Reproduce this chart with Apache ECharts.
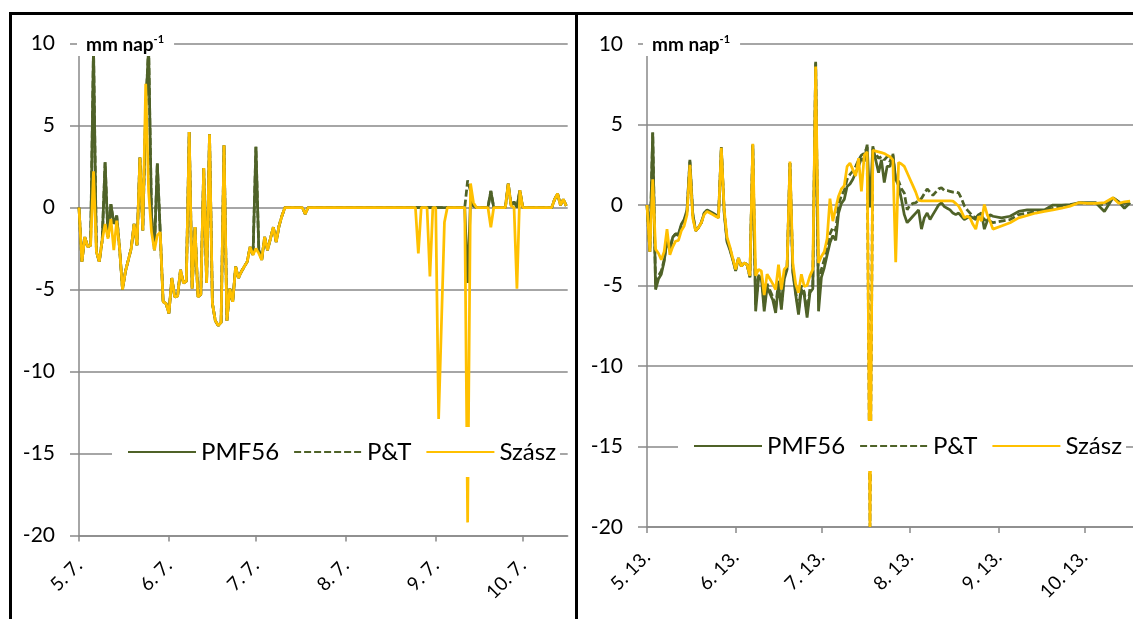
<!DOCTYPE html>
<html>
<head>
<meta charset="utf-8">
<title>Evapotranspiráció – PMF56, P&amp;T, Szász</title>
<script src="https://cdn.jsdelivr.net/npm/echarts@6/dist/echarts.min.js"></script>
<style>
  html, body { margin: 0; padding: 0; background: #fff; }
  #chart { width: 1133px; height: 619px; }
</style>
</head>
<body>
<div id="chart"></div>
<script>
// ---- Left panel: days counted from 5. 7. ----
const leftTickDays = [0, 31, 61, 92, 123, 153];
const leftTickLabels = ['5. 7.', '6. 7.', '7. 7.', '8. 7.', '9. 7.', '10. 7.'];
const leftDays = [
  0, 1, 2, 3, 4, 5, 6, 7, 8, 9, 10, 11, 12, 13, 14, 15, 16, 17, 18, 19,
  20, 21, 22, 23, 24, 25, 26, 27, 28, 29, 30, 31, 32, 33, 34, 35, 36, 37, 38, 39,
  40, 41, 42, 43, 44, 45, 46, 47, 48, 49, 50, 51, 52, 53, 54, 55, 56, 57, 58, 59,
  60, 61, 62, 63, 64, 65, 66, 67, 68, 69, 70, 71,
  77, 78, 79, 116, 117, 118, 120, 121, 122, 123, 124, 126, 127, 133, 134, 135, 136, 137,
  141, 142, 143, 147, 148, 149, 150, 151, 152, 153, 163, 164, 165, 166, 167, 168
];
const leftPMF56 = [
  0, -3.3, -1.8, -2.4, -2.3, 9.8, -2.7, -3.3, -2.0, 2.75, -1.8, 0.2, -1.0, -0.5, -2.5, -5.0, -3.9, -3.2, -2.5, -1.0,
  -2.3, 3.05, -1.4, 6.0, 9.8, -0.5, -2.6, 2.7, -1.5, -5.75, -5.85, -6.45, -4.3, -5.45, -5.4, -3.8, -4.6, -4.5, 4.6, -4.95,
  -1.2, -5.45, -5.3, 2.4, -4.6, 4.47, -5.85, -6.9, -7.2, -7.0, 3.8, -6.9, -4.95, -5.75, -3.6, -4.3, -3.9, -3.6, -3.3, -2.4,
  -2.9, 3.7, -2.6, -3.2, -1.8, -2.6, -1.9, -1.2, -2.1, -1.1, -0.5, 0,
  0, -0.4, 0, 0, 0, 0, 0, 0, 0, 0, 0, 0, 0, 0, -4.6, 0.5, 0.1, 0,
  0, 1.0, 0, 0, 1.46, 0.1, 0.35, 0, 1.05, 0, 0, 0.5, 0.85, 0.14, 0.5, 0.1
];
const leftPT = [
  0, -3.3, -1.8, -2.4, -2.3, 9.8, -2.7, -3.3, -2.0, 2.75, -1.8, 0.2, -1.0, -0.5, -2.5, -5.0, -3.9, -3.2, -2.5, -1.0,
  -2.3, 3.05, -1.4, 6.0, 9.8, -0.5, -2.6, 2.7, -1.5, -5.75, -5.85, -6.45, -4.3, -5.45, -5.4, -3.8, -4.6, -4.5, 4.6, -4.95,
  -1.2, -5.45, -5.3, 2.4, -4.6, 4.47, -5.85, -6.9, -7.2, -7.0, 3.8, -6.9, -4.95, -5.75, -3.6, -4.3, -3.9, -3.6, -3.3, -2.4,
  -2.9, 3.7, -2.6, -3.2, -1.8, -2.6, -1.9, -1.2, -2.1, -1.1, -0.5, 0,
  0, -0.4, 0, 0, 0, 0, 0, 0, 0, 0, 0, 0, 0, 0, 1.65, 1.0, 0.1, 0,
  0, 1.0, 0, 0, 1.46, 0.1, 0.35, 0, 1.05, 0, 0, 0.5, 0.85, 0.14, 0.5, 0.1
];
const leftSzasz = [
  0, -3.3, -1.8, -2.4, -2.3, 2.2, -2.7, -3.3, -2.0, -1.0, -1.9, -0.7, -2.6, -0.8, -2.5, -5.0, -3.9, -3.2, -2.5, -1.0,
  -2.3, 3.05, -1.4, 7.55, 1.0, -1.5, -2.6, -1.7, -1.5, -5.75, -5.85, -6.45, -4.3, -5.45, -5.4, -3.8, -4.6, -4.5, 4.6, -4.95,
  -1.2, -5.45, -5.3, 2.4, -4.6, 4.47, -5.85, -6.9, -7.2, -7.0, 3.8, -6.9, -4.95, -5.75, -3.6, -4.3, -3.9, -3.6, -3.3, -2.4,
  -2.9, -2.5, -2.8, -3.2, -1.8, -2.6, -1.9, -1.2, -2.1, -1.1, -0.5, 0,
  0, -0.4, 0, 0, -2.8, 0, 0, -4.2, 0, 0, -12.9, -0.9, 0, 0, -19.2, 1.46, 0.3, 0,
  0, -1.2, 0, 0, 1.46, 0.1, 0, -4.95, 1.05, 0, 0, 0.5, 0.85, 0.14, 0.5, 0.1
];

// ---- Right panel: days counted from 5. 13. ----
const rightTickDays = [0, 31, 61, 92, 123, 153];
const rightTickLabels = ['5. 13.', '6. 13.', '7. 13.', '8. 13.', '9. 13.', '10. 13.'];
const rightDays = [
  0, 1, 2, 3, 4, 5, 6, 7, 8, 9, 10, 11, 12, 13, 14, 15, 16, 17, 18, 19,
  20, 21, 22, 23, 24, 25, 26, 27, 28, 29, 30, 31, 32, 33, 34, 35, 36, 37, 38, 39,
  40, 41, 42, 43, 44, 45, 46, 47, 48, 49, 50, 51, 52, 53, 54, 55, 56, 57, 58, 59,
  60, 61, 62, 63, 64, 65, 66, 67, 68, 69, 70, 71, 72, 73, 74, 75, 76, 77, 78, 79,
  80, 81, 82, 83, 84, 85, 86, 87, 88, 89, 90, 91, 92, 93, 94, 95, 96, 97, 98, 99,
  100, 101, 102, 103, 104, 105, 106, 107, 108, 109, 110, 111, 112, 113, 114, 115, 116, 117, 118, 119,
  120, 121, 124, 127, 130, 133, 136, 139, 142, 145, 148, 151, 154, 157, 160, 163, 165, 167, 169
];
const rightPMF56 = [
  0, -2.9, 4.5, -5.25, -4.6, -4.3, -3.5, -2.2, -2.8, -2.0, -1.8, -1.8, -1.2, -0.9, -0.3, 2.8, -0.5, -1.6, -1.4, -1.1,
  -0.5, -0.3, -0.4, -0.5, -0.6, -0.8, 3.6, -0.5, -2.3, -2.8, -3.4, -4.1, -3.3, -3.8, -3.6, -3.7, -4.5, 3.7, -6.6, -4.6,
  -4.5, -6.6, -5.1, -5.5, -5.9, -6.7, -4.9, -6.5, -4.6, -4.0, 2.6, -4.2, -5.55, -6.8, -5.25, -5.6, -7.0, -5.45, -5.2, 8.9,
  -6.6, -4.5, -3.9, -3.1, -2.35, -1.9, -2.2, -0.5, 0.1, 0.35, 1.15, 1.3, 1.6, 2.0, 2.4, 2.9, 2.7, 3.75, -0.15, 3.65,
  2.8, 2.0, 2.8, 1.4, 2.4, 2.4, 3.1, 1.6, 1.2, 0.35, -0.6, -1.1, -0.9, -0.7, -0.5, -0.3, -1.5, -0.8, -0.5, -0.9,
  -0.6, -0.3, 0.0, 0.14, -0.1, -0.2, -0.3, -0.5, -0.6, -0.5, -0.7, -0.9, -0.8, -0.7, -0.8, -0.9, -0.6, -0.5, -1.5, -1.0,
  -0.6, -0.7, -0.8, -0.7, -0.4, -0.3, -0.3, -0.3, 0.0, 0.0, 0.03, 0.14, 0.14, 0.14, -0.4, 0.45, 0.2, -0.2, 0.14
];
const rightPT = [
  0, -2.9, 4.5, -5.0, -4.4, -4.1, -3.4, -2.2, -2.8, -2.0, -1.8, -1.9, -1.3, -1.0, -0.4, 2.7, -0.6, -1.6, -1.4, -1.1,
  -0.5, -0.35, -0.45, -0.55, -0.65, -0.8, 3.55, -0.4, -2.2, -2.7, -3.35, -4.05, -3.3, -3.8, -3.6, -3.7, -4.45, 3.75, -6.2, -4.4,
  -4.3, -6.3, -4.9, -5.3, -5.7, -6.4, -4.7, -6.2, -4.4, -3.9, 2.6, -4.0, -5.4, -6.5, -5.0, -5.4, -6.7, -5.2, -5.0, 8.8,
  -6.0, -4.0, -3.4, -2.6, -1.8, -1.4, -1.6, 0.0, 0.6, 0.9, 1.6, 1.9, 2.1, 2.4, 2.8, 3.1, 3.2, 3.6, -20, 3.5,
  3.2, 2.9, 3.0, 2.8, 3.0, 2.7, 3.2, 1.4, 1.5, 1.0, 0.75, -0.3, 0.0, 0.1, 0.14, 0.3, 0.4, 0.7, 1.0, 0.8,
  0.6, 0.8, 1.0, 1.07, 0.9, 0.9, 0.85, 0.8, 0.8, 0.75, 0.4, -0.05, -0.3, -0.5, -0.7, -0.8, -0.6, -0.7, -0.9, -1.0,
  -1.0, -1.1, -1.0, -0.9, -0.6, -0.5, -0.4, -0.35, -0.2, -0.1, 0.0, 0.12, 0.1, 0.1, 0.0, 0.45, 0.2, 0.1, 0.2
];
const rightSzasz = [
  0, -2.9, 1.6, -2.75, -3.0, -3.4, -2.9, -1.5, -3.1, -2.6, -2.25, -2.2, -1.6, -1.3, -0.6, 2.5, -0.8, -1.6, -1.4, -1.1,
  -0.6, -0.4, -0.5, -0.6, -0.7, -0.8, 3.55, -0.3, -2.0, -2.6, -3.3, -4.0, -3.3, -3.8, -3.6, -3.7, -4.4, 3.8, -4.4, -4.0,
  -4.1, -5.6, -4.3, -4.6, -4.9, -5.25, -3.7, -5.25, -4.0, -3.8, 2.7, -3.6, -4.9, -5.45, -4.3, -5.05, -5.0, -4.4, -4.0, 8.6,
  -3.6, -3.2, -2.9, -2.1, 0.4, -1.0, -0.2, 0.55, 1.0, 1.2, 2.4, 2.6, 2.2, 1.8, 2.9, 0.85, 3.1, 3.3, -20, 3.4,
  3.35, 3.3, 3.25, 3.2, 3.1, 3.0, 2.8, -3.55, 2.65, 2.55, 2.4, 2.0, 1.6, 1.2, 0.8, 0.3, 0.25, 0.25, 0.25, 0.25,
  0.25, 0.25, 0.25, 0.25, 0.25, 0.25, 0.25, 0.24, 0.1, -0.07, -0.4, -0.8, -0.7, -0.8, -1.2, -1.5, -0.7, -1.0, 0.03, -0.6,
  -1.0, -1.5, -1.3, -1.1, -0.8, -0.65, -0.5, -0.4, -0.3, -0.2, -0.07, 0.14, 0.1, 0.1, 0.15, 0.45, 0.1, 0.2, 0.24
];

const seriesNames = ['PMF56', 'P&T', 'Szász'];
const olive = '#4F6228';
const gold = '#FFC000';
const gridGray = '#898989';
const FONT = 'Lato';

const zip = (days, vals) => days.map((d, i) => [d, vals[i]]);

function lineSeries(name, idx, data, color, dashed) {
  return {
    name, type: 'line', xAxisIndex: idx, yAxisIndex: idx,
    data, symbol: 'none', showSymbol: false, clip: true,
    lineStyle: { color, width: 2.75, type: dashed ? [7, 3] : 'solid' },
    itemStyle: { color },
    emphasis: { disabled: true }
  };
}

function yAxisFor(idx) {
  return {
    gridIndex: idx, type: 'value', min: -20, max: 10, interval: 5,
    axisLine: { show: true, lineStyle: { color: gridGray, width: 1.5 } },
    axisTick: { show: true, length: 9, lineStyle: { color: gridGray, width: 1.5 } },
    axisLabel: { fontFamily: FONT, fontSize: 21, color: '#000', margin: 24 },
    splitLine: { show: true, lineStyle: { color: gridGray, width: 1.5 } }
  };
}

function xAxisFor(idx, maxDay, tickDays, tickLabels) {
  return {
    gridIndex: idx, type: 'value', min: 0, max: maxDay,
    axisLine: { onZero: false, lineStyle: { color: gridGray, width: 1.5 } },
    axisTick: { customValues: tickDays, length: 6, lineStyle: { color: gridGray, width: 1.5 } },
    axisLabel: {
      customValues: tickDays, rotate: 45, margin: 27,
      fontFamily: FONT, fontSize: 19, color: '#000',
      formatter: v => tickLabels[tickDays.indexOf(v)] ?? ''
    },
    splitLine: { show: false }
  };
}

function unitTitle(left) {
  return {
    text: 'mm nap{sup|-1}', left, top: 33,
    padding: [1, 10, 1, 9], backgroundColor: '#fff',
    textStyle: {
      fontFamily: FONT, fontWeight: 'bold', fontSize: 19, color: '#000', lineHeight: 21,
      rich: { sup: { fontFamily: FONT, fontWeight: 'bold', fontSize: 11, color: '#000', verticalAlign: 'top', lineHeight: 12 } }
    }
  };
}

function legendFor(left, top) {
  return {
    data: seriesNames, left, top, orient: 'horizontal',
    itemWidth: 68, itemHeight: 14, itemGap: 14,
    padding: [13, 4, 13, 15], backgroundColor: '#fff',
    selectedMode: false,
    itemStyle: { opacity: 0 },
    textStyle: { fontFamily: FONT, fontSize: 24, color: '#000' }
  };
}

const chart = echarts.init(document.getElementById('chart'), null, { renderer: 'canvas' });
chart.setOption({
  animation: false,
  backgroundColor: '#fff',
  title: [unitTitle(77), unitTitle(643)],
  legend: [legendFor(112, 427), legendFor(678, 421)],
  grid: [
    { left: 79, top: 43.5, width: 488.7, height: 492 },
    { left: 647, top: 44, width: 489, height: 483 }
  ],
  xAxis: [
    xAxisFor(0, 168.5, leftTickDays, leftTickLabels),
    xAxisFor(1, 170, rightTickDays, rightTickLabels)
  ],
  yAxis: [yAxisFor(0), yAxisFor(1)],
  series: [
    lineSeries('PMF56', 0, zip(leftDays, leftPMF56), olive, false),
    lineSeries('P&T', 0, zip(leftDays, leftPT), olive, true),
    lineSeries('Szász', 0, zip(leftDays, leftSzasz), gold, false),
    lineSeries('PMF56', 1, zip(rightDays, rightPMF56), olive, false),
    lineSeries('P&T', 1, zip(rightDays, rightPT), olive, true),
    lineSeries('Szász', 1, zip(rightDays, rightSzasz), gold, false)
  ],
  graphic: [
    { type: 'line', z: 100, shape: { x1: 9, y1: 13.5, x2: 1133, y2: 13.5 }, style: { stroke: '#000', lineWidth: 3 } },
    { type: 'line', z: 100, shape: { x1: 10.5, y1: 12, x2: 10.5, y2: 619 }, style: { stroke: '#000', lineWidth: 3 } },
    { type: 'line', z: 100, shape: { x1: 576.5, y1: 12, x2: 576.5, y2: 619 }, style: { stroke: '#000', lineWidth: 3 } }
  ]
});
</script>
</body>
</html>
